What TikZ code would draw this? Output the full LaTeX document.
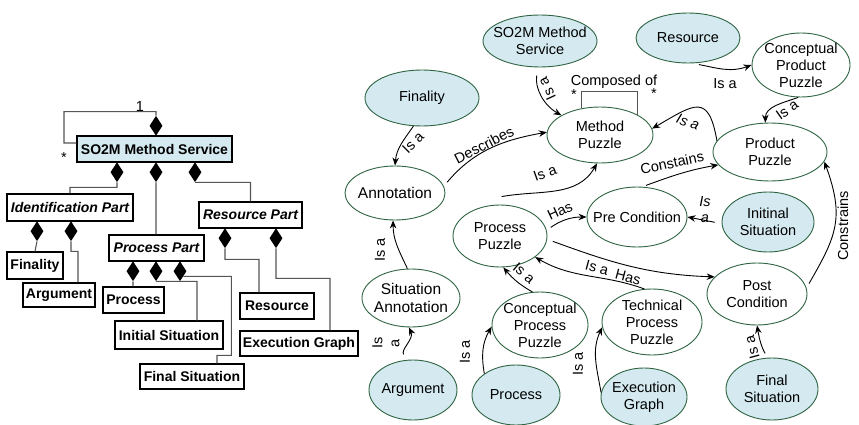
\documentclass[tikz,border=0pt]{standalone}
\usepackage{fontspec}
\setmainfont{Liberation Sans}
\usetikzlibrary{arrows.meta,shapes.geometric}
\definecolor{puzzleline}{RGB}{46,100,66}
\definecolor{puzzlefill}{RGB}{212,234,240}
\definecolor{compline}{RGB}{85,85,85}

\begin{document}
\begin{tikzpicture}[x=1pt,y=1pt,>={Stealth[length=8pt,width=6.5pt]},
  class box/.style={rectangle,draw=black,line width=1.3pt,inner sep=0pt,
  font=\fontsize{14}{16}\selectfont\bfseries},
  part box/.style={class box,font=\fontsize{14}{16}\selectfont\bfseries\itshape},
  owner/.style={diamond,fill=black,inner sep=0pt,minimum width=13pt,minimum height=20pt},
  comp line/.style={draw=compline,line width=1.1pt},
  puzzle node/.style 2 args={ellipse,draw=puzzleline,line width=0.9pt,
  inner sep=0pt,minimum width=#1,minimum height=#2},
  given node/.style 2 args={puzzle node={#1}{#2},fill=puzzlefill},
  ptext/.style={align=center,inner sep=0pt,font=\fontsize{14.5}{17}\selectfont},
  rel/.style={->,line width=0.9pt},
  rel label/.style={inner sep=0pt,align=center,font=\fontsize{14.5}{17}\selectfont}]

  \useasboundingbox (0,0) rectangle (859,-425);

  % composition tree
  \node[class box,fill=puzzlefill,minimum width=155pt,minimum height=26pt]
    (msBox) at (154.5,-149) {SO2M Method Service};
  \node[owner,anchor=south] (dTop) at (156,-136) {};
  \node[rel label] (oneMult) at (140,-107) {1};
  \node[rel label] (starMult) at (64,-158) {*};
  \node[owner,anchor=north] (dIdent) at (117,-162) {};
  \node[owner,anchor=north] (dProc) at (156,-162) {};
  \node[owner,anchor=north] (dRes) at (195,-162) {};

  \node[part box,minimum width=126pt,minimum height=27pt] (identBox) at (70,-207.5) {Identification Part};
  \node[part box,minimum width=95pt,minimum height=26pt] (procBox) at (156.5,-248) {Process Part};
  \node[part box,minimum width=103pt,minimum height=26pt] (resBox) at (250.5,-215) {Resource Part};

  \node[owner,anchor=north] (dFin) at (37,-221) {};
  \node[owner,anchor=north] (dArg) at (71,-221) {};
  \node[class box,minimum width=56pt,minimum height=27pt] (finBox) at (35,-265.5) {Finality};
  \node[class box,minimum width=72pt,minimum height=24pt] (argBox) at (59,-295) {Argument};

  \node[owner,anchor=north] (dProcess) at (133,-261) {};
  \node[owner,anchor=north] (dInit) at (156,-261) {};
  \node[owner,anchor=north] (dFinSit) at (180,-261) {};
  \node[class box,minimum width=61pt,minimum height=26pt] (processBox) at (133.5,-300) {Process};
  \node[class box,minimum width=108pt,minimum height=28pt] (initBox) at (169,-335) {Initial Situation};
  \node[class box,minimum width=104pt,minimum height=25pt] (finSitBox) at (192,-376.5) {Final Situation};

  \node[owner,anchor=north] (dResrc) at (225,-228) {};
  \node[owner,anchor=north] (dExec) at (276,-228) {};
  \node[class box,minimum width=74pt,minimum height=26pt] (resourceBox) at (277,-306) {Resource};
  \node[class box,minimum width=118pt,minimum height=25pt] (execBox) at (299,-343.5) {Execution Graph};

  \path[comp line]
    (dTop.north) |- ++(-92,4) |- ([yshift=6pt]msBox.west)
    (dIdent.south) -- ++(0,-5) -| (identBox.north)
    (dProc.south) -- (dProc.south |- procBox.north)
    (dRes.south) -| (resBox.north)
    (dFin.south) -- (finBox.north)
    (dArg.south) |- ++(7,-10) -- ([xshift=19pt]argBox.north)
    (dProcess.south) -- (dProcess.south |- processBox.north)
    (dInit.south) -| ([xshift=28pt]initBox.north)
    (dFinSit.south east) -| ++(48,-79) -| ([xshift=25pt]finSitBox.north)
    (dResrc.south) |- ++(34,-11) -- ([xshift=-18pt]resourceBox.north)
    (dExec.south) |- ++(54,-30) -- ([xshift=31pt]execBox.north);

  % puzzle graph
  \node[given node={114pt}{52pt},label={[ptext]center:SO2M Method\\Service}] (svcEll) at (540,-41) {};
  \node[given node={104pt}{50pt},label={[ptext]center:Resource}] (resEll) at (688,-38) {};
  \node[puzzle node={98pt}{64pt},label={[ptext]center:Conceptual\\Product\\Puzzle}] (cppEll) at (801,-65) {};
  \node[given node={114pt}{56pt},label={[ptext]center:Finality}] (finEll) at (422,-98) {};
  \node[puzzle node={106pt}{56pt},label={[ptext]center:Method\\Puzzle}] (mpEll) at (600,-135) {};
  \node[puzzle node={114pt}{58pt},label={[ptext]center:Product\\Puzzle}] (ppEll) at (770,-152) {};
  \node[puzzle node={100pt}{54pt},label={[ptext,font=\fontsize{15.5}{18}\selectfont]center:Annotation}] (annEll) at (395,-193) {};
  \node[puzzle node={100pt}{60pt},label={[ptext]center:Pre Condition}] (preEll) at (637,-217) {};
  \node[given node={92pt}{60pt},label={[ptext]center:Initinal\\Situation}] (initEll) at (768,-222) {};
  \node[puzzle node={94pt}{62pt},label={[ptext]center:Process\\Puzzle}] (prpEll) at (500,-236) {};
  \node[puzzle node={98pt}{58pt},label={[ptext,font=\fontsize{15.5}{18}\selectfont]center:Situation\\Annotation}] (sitEll) at (411,-298) {};
  \node[puzzle node={96pt}{66pt},label={[ptext]center:Conceptual\\Process\\Puzzle}] (cprEll) at (540,-325) {};
  \node[puzzle node={100pt}{66pt},label={[ptext]center:Technical\\Process\\Puzzle}] (tprEll) at (652,-322) {};
  \node[puzzle node={100pt}{62pt},label={[ptext]center:Post\\Condition}] (postEll) at (757,-294) {};
  \node[given node={88pt}{60pt},label={[ptext]center:Argument}] (argEll) at (413,-390) {};
  \node[given node={88pt}{60pt},label={[ptext]center:Process}] (procEll) at (516,-395) {};
  \node[given node={86pt}{58pt},label={[ptext]center:Execution\\Graph}] (execEll) at (644,-397) {};
  \node[given node={92pt}{62pt},label={[ptext]center:Final\\Situation}] (fsEll) at (772,-389) {};

  \draw[rel,shorten <=8pt] (svcEll.-94) to[out=-100,in=150] (mpEll.153);
  \draw[rel,shorten <=7pt] (resEll.-81) to[out=-10,in=200] (cppEll.180);
  \draw[rel] (cppEll.-95) to[out=200,in=90] (ppEll.99);
  \draw[rel] (ppEll.168) to[out=100,in=30,looseness=1.9] (mpEll.7);
  \draw[rel] (finEll.-107) to[out=-125,in=85] (annEll.90);
  \draw[rel,shorten <=5pt] (annEll.8) to[out=50,in=190] (mpEll.177);
  \draw[rel] ([yshift=8pt]prpEll.87) to[out=10,in=240] (mpEll.-96);
  \draw[rel,shorten <=4pt] (preEll.80) to[out=20,in=190] (ppEll.194);
  \draw[rel,shorten <=5pt] (postEll.7) to[out=60,in=-70,looseness=1.2] (ppEll.-10);
  \draw[rel,shorten <=5pt] (prpEll.7) to[out=35,in=180] (preEll.180);
  \draw[rel,shorten <=7pt] (initEll.182) -- (preEll.0);
  \draw[rel,shorten <=6pt] (prpEll.-4) to[out=-20,in=178] (postEll.158);
  \draw[rel] (tprEll.103) to[out=160,in=-30] (prpEll.-31);
  \draw[rel] (cprEll.103) to[out=150,in=-50] (prpEll.-84);
  \draw[rel] (sitEll.97) to[out=115,in=-90] (annEll.-94);
  \draw[rel,shorten <=7pt] (argEll.99) to[out=130,in=-65] (sitEll.-94);
  \draw[rel] (procEll.146) to[out=100,in=-120] (cprEll.182);
  \draw[rel] (execEll.174) to[out=100,in=-115] (tprEll.186);
  \draw[rel,shorten <=5pt] (fsEll.98) to[out=120,in=-80] (postEll.-90);
  \draw[comp line,line width=0.9pt] (mpEll.124) -- ++(0,17) -| (mpEll.28);

  \node[rel label,rotate=115] (lSvcMp) at (547,-89) {Is a};
  \node[rel label] (lResCpp) at (725,-84) {Is a};
  \node[rel label,rotate=35] (lCppPp) at (787,-110) {Is a};
  \node[rel label,rotate=-20,font=\fontsize{14.5}{17}\selectfont\itshape] (lPpMp) at (688,-122) {Is a};
  \node[rel label,rotate=45] (lFinAnn) at (413,-143) {Is a};
  \node[rel label,rotate=27] (lAnnMp) at (484,-145) {Describes};
  \node[rel label,rotate=20] (lPrpMp) at (545,-173) {Is a};
  \node[rel label,rotate=12] (lPrePp) at (672,-163) {Constains};
  \node[rel label,rotate=90] (lPostPp) at (843,-226) {Constrains};
  \node[rel label,rotate=25] (lPrpPre) at (560,-211) {Has};
  \node[rel label,font=\fontsize{14.5}{16}\selectfont\itshape] (lInitPre) at (705,-210) {Is\\a};
  \node[rel label,rotate=-15] (lPrpPost) at (628,-277) {Has};
  \node[rel label,rotate=-15] (lTprPrp) at (597,-268) {Is a};
  \node[rel label,rotate=-40] (lCprPrp) at (524,-273) {Is a};
  \node[rel label,rotate=90] (lSitAnn) at (380,-250) {Is a};
  \node[rel label,rotate=90] (lArgSit) at (386,-343) {Is\\a};
  \node[rel label,rotate=90] (lProcCpr) at (465,-352) {Is a};
  \node[rel label,rotate=90] (lExecTpr) at (578,-364) {Is a};
  \node[rel label,rotate=105] (lFsPost) at (752,-347) {Is a};
  \node[rel label] (lComp) at (614,-82) {Composed of};
  \node[rel label] (sCompL) at (574,-95) {*};
  \node[rel label] (sCompR) at (654,-94) {*};
\end{tikzpicture}
\end{document}
